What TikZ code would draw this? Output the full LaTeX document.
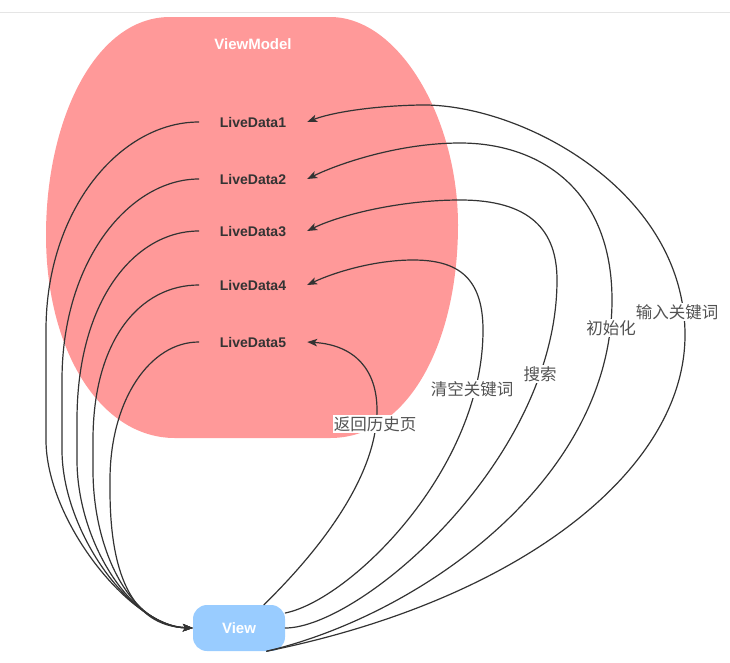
\documentclass[tikz,border=0pt]{standalone}
\usepackage{fontspec}
\setmainfont{Liberation Sans}
\newfontfamily\cjk{Noto Sans CJK SC}
\usetikzlibrary{arrows.meta}
\definecolor{vmpink}{HTML}{FF9999}
\definecolor{viewblue}{HTML}{99CCFF}
\definecolor{ink}{HTML}{333333}

\begin{document}
\begin{tikzpicture}[x=1pt, y=-1pt, line cap=round, line join=round,
    ldlabel/.style={font=\fontsize{14}{16}\selectfont\bfseries, text=ink,
      minimum width=108pt, minimum height=16pt, inner sep=0pt},
    viewbox/.style={fill=viewblue, rounded corners=14pt, minimum width=92pt,
      minimum height=46pt, inner sep=0pt, text=white,
      font=\fontsize{15}{17}\selectfont\bfseries},
    link/.style={draw=ink, line width=1.2pt, -{Stealth[length=10pt,width=7.5pt,inset=2.5pt]}},
    edgelabel/.style={font=\cjk\fontsize{16.5}{19}\selectfont, text=ink!85,
      fill=white, inner sep=1pt}]

  % 钉死画布
  \useasboundingbox (0,0) rectangle (730,662);
  \draw[black!10, line width=0.8pt] (0,12) -- (730,12);

  %% ════ ViewModel 色块 ════
  \fill[vmpink] (170,17) -- (330,17)
    .. controls (400,17) and (458,120) .. (458,225)
    .. controls (458,340) and (410,438) .. (330,438) -- (175,438)
    .. controls (100,438) and (46,350) .. (46,235)
    .. controls (46,120) and (95,17) .. (170,17) -- cycle;
  \node[text=white, font=\fontsize{15}{17}\selectfont\bfseries] (vm) at (253,44) {ViewModel};

  %% ════ 节点 ════
  \foreach \n/\yy in {1/122, 2/179, 3/231, 4/285, 5/342}
    \node[ldlabel] (ld\n) at (253,\yy) {LiveData\n};
  \node[viewbox] (view) at (239,628) {View};

  %% ════ LiveData -> View（左侧）════
  \foreach \n/\yy/\cx/\cy/\xl/\yv/\ye in {1/122/120/210/46/330/440, 2/179/130/260/62/380/450,
      3/231/135/300/77/420/460, 4/285/140/340/93/440/470, 5/342/150/400/110/480/490}
    \draw[link] (ld\n.west) .. controls (\cx,\yy) and (\xl,\cy) .. (\xl,\yv) -- (\xl,\ye)
      .. controls (\xl,{\ye+80}) and (130,626) .. (view.west);

  %% ════ View -> LiveData（右侧）════
  \draw[link] (view.-40) .. controls (520,600) and (685,470) .. (685,335)
    .. controls (685,190) and (520,103) .. (420,105)
    .. controls (370,106) and (330,113) .. (ld1.east);
  \draw[link] (view.-40) .. controls (420,615) and (612,480) .. (612,300)
    .. controls (612,190) and (540,143) .. (460,143)
    .. controls (400,143) and (340,163) .. (ld2.east);
  \draw[link] (view.east) .. controls (360,628) and (557,460) .. (557,280)
    .. controls (557,230) and (530,200) .. (460,200)
    .. controls (400,200) and (340,215) .. (ld3.east);
  \draw[link] (view.18) .. controls (350,600) and (483,470) .. (483,330)
    .. controls (483,275) and (455,260) .. (413,260)
    .. controls (375,260) and (335,272) .. (ld4.east);
  \draw[link] (view.43) .. controls (330,540) and (377,470) .. (377,410)
    .. controls (377,370) and (355,345) .. (ld5.east);

  %% ════ 标签 ════
  \node[edgelabel] (lbback) at (375,424) {返回历史页};
  \node[edgelabel] (lbclear) at (472,389) {清空关键词};
  \node[edgelabel] (lbsearch) at (540,374) {搜索};
  \node[edgelabel] (lbinit) at (611,328) {初始化};
  \node[edgelabel] (lbinput) at (677,312) {输入关键词};
\end{tikzpicture}
\end{document}
